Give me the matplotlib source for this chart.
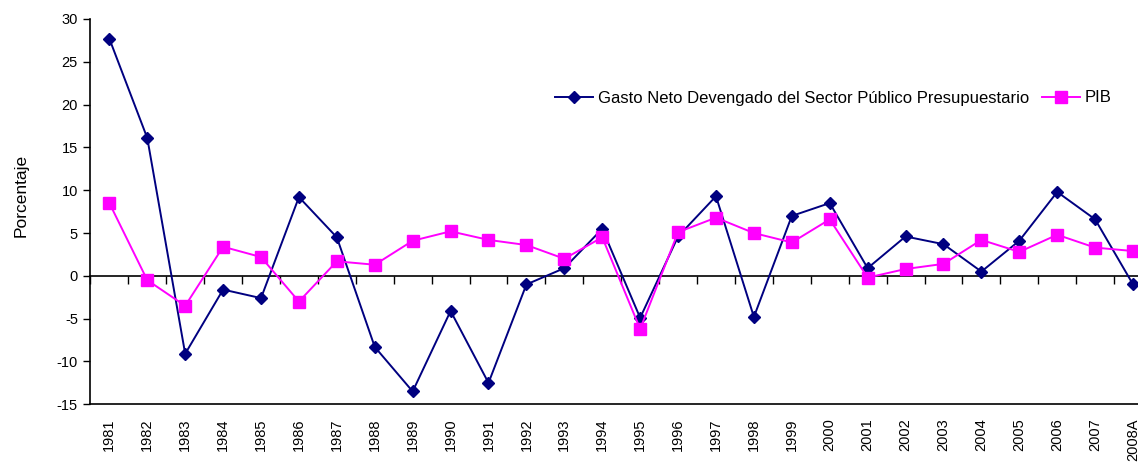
import numpy as np
import matplotlib
matplotlib.use("Agg")
import matplotlib.pyplot as plt

plt.rcParams['font.family'] = ['Liberation Sans', 'DejaVu Sans']
plt.rcParams['axes.unicode_minus'] = False

# datos
years = ['1981', '1982', '1983', '1984', '1985', '1986', '1987', '1988', '1989', '1990',
         '1991', '1992', '1993', '1994', '1995', '1996', '1997', '1998', '1999', '2000',
         '2001', '2002', '2003', '2004', '2005', '2006', '2007', '2008A']
gasto = [27.7, 16.1, -9.1, -1.6, -2.6, 9.2, 4.5, -8.3, -13.5, -4.1,
         -12.5, -1.0, 0.9, 5.5, -4.9, 4.6, 9.3, -4.8, 7.0, 8.5,
         0.9, 4.6, 3.7, 0.5, 4.1, 9.8, 6.6, -1.0]
pib = [8.5, -0.5, -3.5, 3.4, 2.2, -3.0, 1.7, 1.3, 4.1, 5.2,
       4.2, 3.6, 2.0, 4.5, -6.2, 5.1, 6.8, 5.0, 3.9, 6.6,
       -0.2, 0.8, 1.4, 4.2, 2.8, 4.8, 3.3, 2.9]
yticks = [-15, -10, -5, 0, 5, 10, 15, 20, 25, 30]

W, H = 1138, 462
fig = plt.figure(figsize=(W / 100, H / 100), dpi=100)
ax = fig.add_axes([90.4 / W, 1 - 404.3 / H, (1152 - 90.4) / W, (404.3 - 19) / H])

x = np.arange(len(years))
ax.plot(x, gasto, color='#000080', lw=1.4, marker='D', ms=6.5,
        label='Gasto Neto Devengado del Sector Público Presupuestario')
ax.plot(x, pib, color='#FF00FF', lw=1.4, marker='s', ms=8, label='PIB')

ax.set_xlim(-0.5, len(years) - 0.5)
ax.set_ylim(-15, 30)
ax.set_yticks(yticks)
ax.set_xticks(x)
ax.set_xticklabels(years, rotation=90, fontsize=10.5)
ax.tick_params(axis='x', length=0, pad=10)
ax.tick_params(axis='y', labelsize=10.5, length=5, width=1, direction='out', pad=4)

for s in ['top', 'right']:
    ax.spines[s].set_visible(False)
ax.spines['left'].set_linewidth(1.2)
ax.spines['bottom'].set_linewidth(1.2)

# eje de categorias cruzando en cero
zero_frac = (0 - (-15)) / 45
sec = ax.secondary_xaxis(zero_frac)
sec.set_xticks(np.arange(-0.5, len(years), 1.0))
sec.set_xticklabels([])
sec.tick_params(length=6, width=1, direction='out')
sec.spines['bottom'].set_linewidth(1.2)

ax.set_ylabel('Porcentaje', fontsize=12.5)
ax.yaxis.set_label_coords(-0.058, 0.543)

fig.legend(loc='center left', bbox_to_anchor=(555 / W, 1 - 98 / H), ncol=2,
           frameon=False, fontsize=12, handlelength=2.3, handletextpad=0.25,
           columnspacing=0.8, borderpad=0, borderaxespad=0)

fig.savefig('out.png', dpi=100)
